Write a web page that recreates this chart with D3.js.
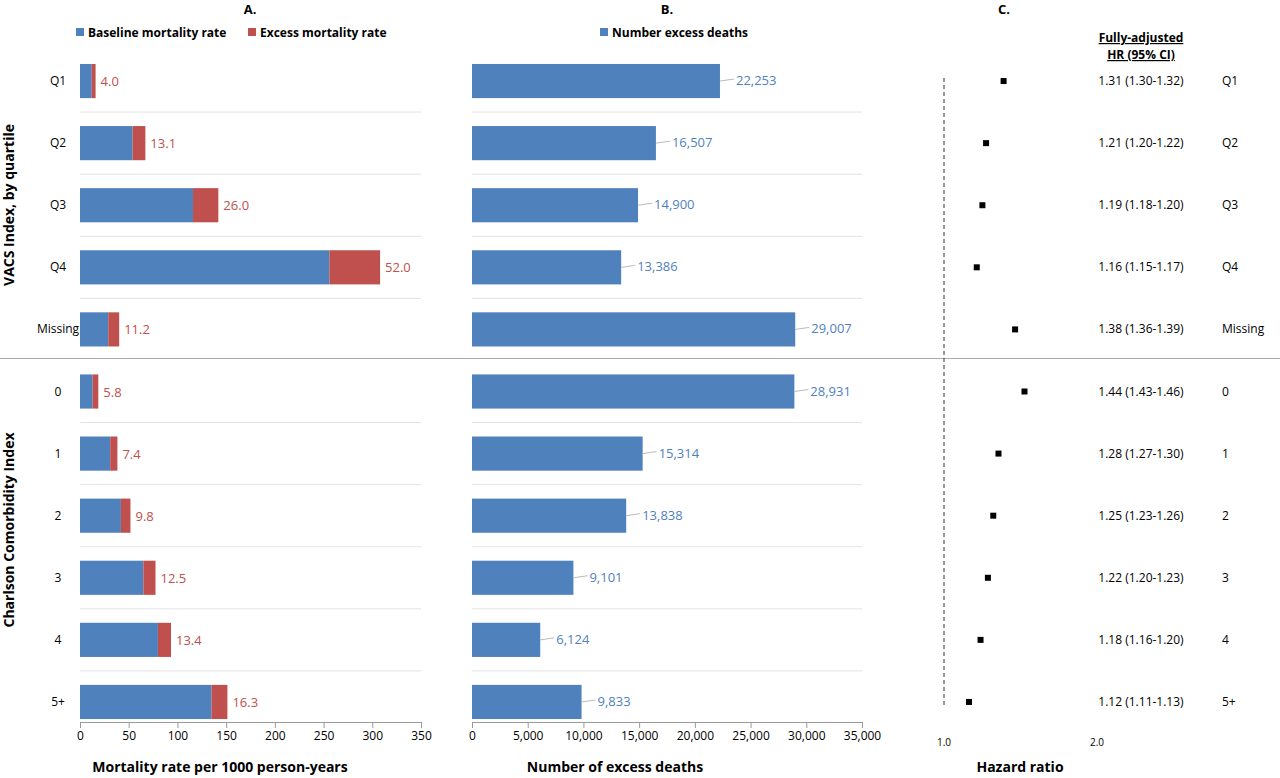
<!DOCTYPE html>
<html><head><meta charset="utf-8">
<script src="https://cdn.jsdelivr.net/npm/d3@7"></script>
<style>body{margin:0;background:#fff}text{font-family:"Open Sans",sans-serif}</style>
</head><body><svg id="c" width="1280" height="778"></svg>
<script>
const rows = ['Q1','Q2','Q3','Q4','Missing','0','1','2','3','4','5+'];
const baseline = [12, 54, 116, 256, 29, 13, 31, 42, 65, 80, 135];
const excess = [4.0, 13.1, 26.0, 52.0, 11.2, 5.8, 7.4, 9.8, 12.5, 13.4, 16.3];
const deaths = [22253, 16507, 14900, 13386, 29007, 28931, 15314, 13838, 9101, 6124, 9833];
const hr = [1.31, 1.21, 1.19, 1.16, 1.38, 1.44, 1.28, 1.25, 1.22, 1.18, 1.12];
const hrText = ['1.31 (1.30-1.32)','1.21 (1.20-1.22)','1.19 (1.18-1.20)','1.16 (1.15-1.17)','1.38 (1.36-1.39)',
  '1.44 (1.43-1.46)','1.28 (1.27-1.30)','1.25 (1.23-1.26)','1.22 (1.20-1.23)','1.18 (1.16-1.20)','1.12 (1.11-1.13)'];

const blue = '#4f81bd', red = '#c0504d';
const svg = d3.select('#c');
const y = d3.scaleBand().domain(rows).range([50, 733]).paddingInner(0.45).paddingOuter(0.225);
const step = y.step();
const xa = d3.scaleLinear().domain([0, 350]).range([80, 421]);
const xb = d3.scaleLinear().domain([0, 35000]).range([472, 862]);
const xc = d3.scaleLog().domain([1, 2]).range([944, 1097]);

// row separators
rows.forEach((r, i) => {
  if (i === 0 || i === 5) return;
  const yy = y(r) - y.paddingInner() * step / 2 - 0;
  const yl = y(r) - (step - y.bandwidth()) / 2;
  [[80, 421], [472, 862]].forEach(([a, b]) =>
    svg.append('line').attr('x1', a).attr('x2', b).attr('y1', yl).attr('y2', yl).attr('stroke', '#e3e3e3'));
});
const ySplit = y('0') - (step - y.bandwidth()) / 2 - 2;
svg.append('line').attr('x1', 0).attr('x2', 1280).attr('y1', ySplit).attr('y2', ySplit).attr('stroke', '#aaa');

// panel A
svg.selectAll('.base').data(rows).join('rect')
  .attr('x', xa(0)).attr('y', d => y(d)).attr('height', y.bandwidth())
  .attr('width', (d, i) => xa(baseline[i]) - xa(0)).attr('fill', blue);
svg.selectAll('.exc').data(rows).join('rect')
  .attr('x', (d, i) => xa(baseline[i])).attr('y', d => y(d)).attr('height', y.bandwidth())
  .attr('width', (d, i) => xa(baseline[i] + excess[i]) - xa(baseline[i])).attr('fill', red);
svg.selectAll('.excl').data(rows).join('text')
  .attr('x', (d, i) => xa(baseline[i] + excess[i]) + 5).attr('y', d => y(d) + y.bandwidth() / 2 + 5)
  .attr('fill', red).attr('font-size', 13).text((d, i) => excess[i].toFixed(1));
svg.selectAll('.rl').data(rows).join('text')
  .attr('x', 58).attr('y', d => y(d) + y.bandwidth() / 2 + 4).attr('text-anchor', 'middle')
  .attr('font-size', 12).text(d => d);
svg.append('g').attr('transform', 'translate(0,722)')
  .call(d3.axisBottom(xa).ticks(7).tickSizeOuter(0)).call(g => {
    g.selectAll('text').attr('font-size', 12).attr('fill', '#000');
    g.selectAll('line,path').attr('stroke', '#999');
  });

// panel B
svg.selectAll('.db').data(rows).join('rect')
  .attr('x', xb(0)).attr('y', d => y(d)).attr('height', y.bandwidth())
  .attr('width', (d, i) => xb(deaths[i]) - xb(0)).attr('fill', blue);
svg.selectAll('.dl').data(rows).join('line')
  .attr('x1', (d, i) => xb(deaths[i])).attr('x2', (d, i) => xb(deaths[i]) + 14)
  .attr('y1', d => y(d) + y.bandwidth() / 2).attr('y2', d => y(d) + y.bandwidth() / 2 - 2)
  .attr('stroke', '#bbb');
svg.selectAll('.dt').data(rows).join('text')
  .attr('x', (d, i) => xb(deaths[i]) + 16).attr('y', d => y(d) + y.bandwidth() / 2 + 4)
  .attr('fill', blue).attr('font-size', 13).text((d, i) => d3.format(',')(deaths[i]));
svg.append('g').attr('transform', 'translate(0,722)')
  .call(d3.axisBottom(xb).ticks(7).tickFormat(d3.format(',')).tickSizeOuter(0)).call(g => {
    g.selectAll('text').attr('font-size', 12).attr('fill', '#000');
    g.selectAll('line,path').attr('stroke', '#999');
  });

// panel C
svg.append('line').attr('x1', xc(1)).attr('x2', xc(1)).attr('y1', 78).attr('y2', 705)
  .attr('stroke', '#333').attr('stroke-dasharray', '4,3');
svg.selectAll('.pt').data(rows).join('rect')
  .attr('x', (d, i) => xc(hr[i]) - 3).attr('y', d => y(d) + y.bandwidth() / 2 - 3)
  .attr('width', 6).attr('height', 6).attr('fill', '#000');
svg.selectAll('.ht').data(rows).join('text')
  .attr('x', 1141).attr('y', d => y(d) + y.bandwidth() / 2 + 4).attr('text-anchor', 'middle')
  .attr('font-size', 12).text((d, i) => hrText[i]);
svg.selectAll('.hr').data(rows).join('text')
  .attr('x', 1222).attr('y', d => y(d) + y.bandwidth() / 2 + 4)
  .attr('font-size', 12).text(d => d);
[1, 2].forEach(v => svg.append('text').attr('x', xc(v)).attr('y', 746).attr('text-anchor', 'middle')
  .attr('font-size', 10).text(v.toFixed(1)));
svg.append('text').attr('x', 1141).attr('y', 42).attr('text-anchor', 'middle').attr('font-size', 12)
  .attr('font-weight', 'bold').attr('text-decoration', 'underline').text('Fully-adjusted');
svg.append('text').attr('x', 1141).attr('y', 59).attr('text-anchor', 'middle').attr('font-size', 12)
  .attr('font-weight', 'bold').attr('text-decoration', 'underline').text('HR (95% CI)');

// titles and legends
[['A.', 250], ['B.', 667], ['C.', 1004]].forEach(([t, x]) =>
  svg.append('text').attr('x', x).attr('y', 14).attr('text-anchor', 'middle')
    .attr('font-size', 13).attr('font-weight', 'bold').text(t));
[['Baseline mortality rate', blue, 76], ['Excess mortality rate', red, 248], ['Number excess deaths', blue, 600]]
  .forEach(([t, c, x]) => {
    svg.append('rect').attr('x', x).attr('y', 28).attr('width', 8).attr('height', 8).attr('fill', c);
    svg.append('text').attr('x', x + 12).attr('y', 37).attr('font-size', 12).attr('font-weight', 'bold').text(t);
  });
[['Mortality rate per 1000 person-years', 220], ['Number of excess deaths', 615], ['Hazard ratio', 1020]]
  .forEach(([t, x]) => svg.append('text').attr('x', x).attr('y', 772).attr('text-anchor', 'middle')
    .attr('font-size', 14).attr('font-weight', 'bold').text(t));
[['VACS Index, by quartile', 205], ['Charlson Comorbidity Index', 530]].forEach(([t, yy]) =>
  svg.append('text').attr('transform', `translate(14,${yy}) rotate(-90)`).attr('text-anchor', 'middle')
    .attr('font-size', 14).attr('font-weight', 'bold').text(t));
</script></body></html>
